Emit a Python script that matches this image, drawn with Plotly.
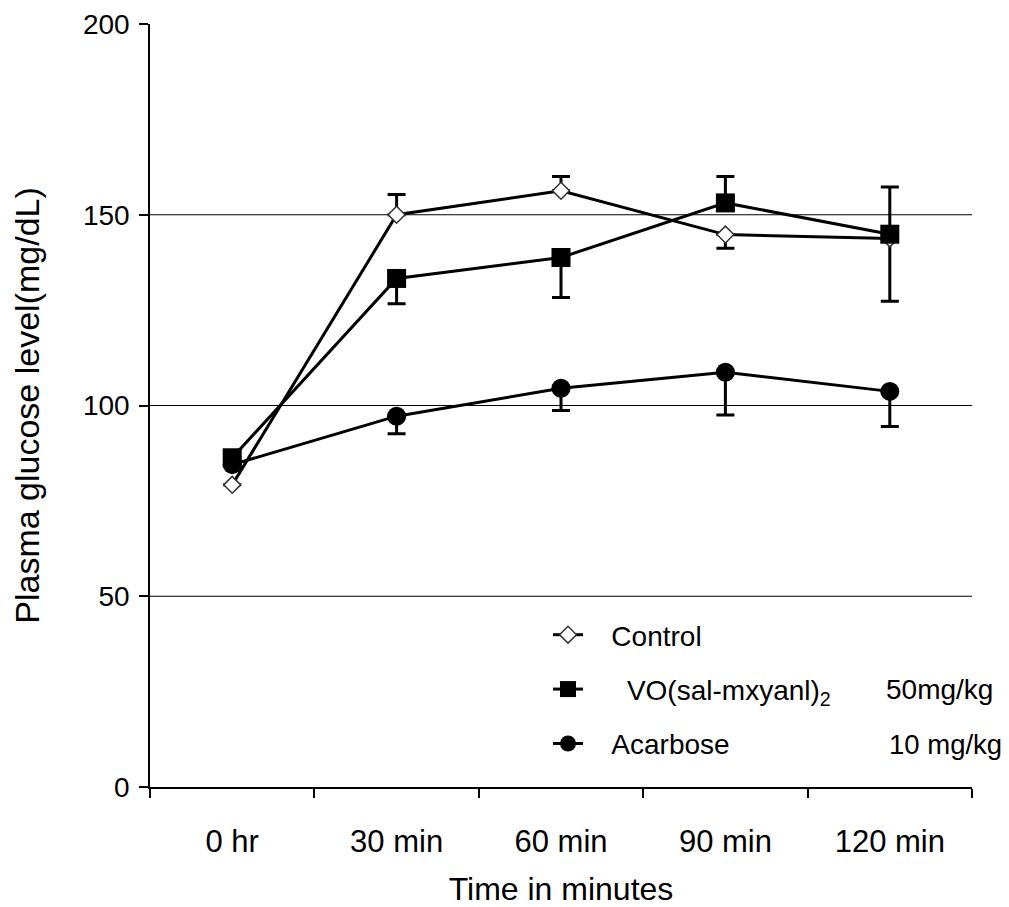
import plotly.graph_objects as go

categories = ["0 hr", "30 min", "60 min", "90 min", "120 min"]

control = [79.2, 150.0, 156.3, 144.8, 143.8]
control_err_plus = [0, 5.3, 3.7, 0, 0]
control_err_minus = [0, 0, 0, 3.6, 16.5]

vo = [86.3, 133.3, 138.8, 153.1, 144.9]
vo_err_plus = [0, 0, 0, 6.9, 12.4]
vo_err_minus = [0, 6.6, 10.5, 0, 0]

acarbose = [84.5, 97.2, 104.5, 108.7, 103.7]
acarbose_err_plus = [0, 0, 0, 0, 0]
acarbose_err_minus = [0, 4.6, 5.8, 11.2, 9.2]

y_ticks = [0, 50, 100, 150, 200]
grid_values = [50, 100, 150]

FONT = "Liberation Sans, Arial, sans-serif"
BLACK = "#000000"
PAD = "&nbsp;&nbsp;&nbsp;"

fig = go.Figure()

def err(plus, minus):
    return dict(type="data", symmetric=False, array=plus, arrayminus=minus,
                color=BLACK, thickness=3, width=9)

fig.add_trace(go.Scatter(
    x=categories, y=control, name=PAD + "Control", mode="lines+markers",
    line=dict(color=BLACK, width=3),
    marker=dict(symbol="diamond", size=13, color="white",
                line=dict(color="#333333", width=1.5)),
    error_y=err(control_err_plus, control_err_minus),
    legendrank=1, legendgroup="a",
))
fig.add_trace(go.Scatter(
    x=categories, y=acarbose, name=PAD + "Acarbose", mode="lines+markers",
    line=dict(color=BLACK, width=3),
    marker=dict(symbol="circle", size=19, color=BLACK),
    error_y=err(acarbose_err_plus, acarbose_err_minus),
    legendrank=3, legendgroup="c",
))
fig.add_trace(go.Scatter(
    x=categories, y=vo, name=PAD + "&nbsp;&nbsp;VO(sal-mxyanl)<sub>2</sub>", mode="lines+markers",
    line=dict(color=BLACK, width=3),
    marker=dict(symbol="square", size=19, color=BLACK),
    error_y=err(vo_err_plus, vo_err_minus),
    legendrank=2, legendgroup="b",
))

shapes = [dict(type="line", xref="paper", x0=0, x1=1, yref="y", y0=v, y1=v,
               line=dict(color=BLACK, width=1.2), layer="below")
          for v in grid_values]

fig.update_layout(
    width=1001, height=899,
    margin=dict(l=142, r=37, t=16, b=120, autoexpand=False),
    paper_bgcolor="white", plot_bgcolor="white",
    font=dict(family=FONT, size=28, color=BLACK),
    shapes=shapes,
    showlegend=True,
    legend=dict(x=0.4842, y=0.232, xanchor="left", yanchor="top",
                bgcolor="rgba(0,0,0,0)", font=dict(size=28),
                traceorder="grouped", tracegroupgap=15, itemwidth=30),
    annotations=[
        dict(text="50mg/kg", x=0.893, y=0.128, xref="paper", yref="paper",
             xanchor="left", yanchor="middle", showarrow=False, font=dict(size=28)),
        dict(text="10 mg/kg", x=0.897, y=0.056, xref="paper", yref="paper",
             xanchor="left", yanchor="middle", showarrow=False, font=dict(size=27.5)),
    ],
)

fig.update_xaxes(
    type="category", categoryorder="array", categoryarray=categories,
    range=[-0.5, 4.5], showgrid=False, zeroline=False,
    showline=True, linecolor=BLACK, linewidth=1.5,
    ticks="outside", tickson="boundaries", ticklen=9, tickwidth=1.5, tickcolor=BLACK,
    tickfont=dict(size=31), ticklabelstandoff=26,
    title=dict(text="Time in minutes", font=dict(size=32), standoff=40),
    automargin=False,
)
fig.update_yaxes(
    range=[0, 200], tickvals=y_ticks, showgrid=False, zeroline=False,
    showline=True, linecolor=BLACK, linewidth=1.5,
    ticks="outside", ticklen=9, tickwidth=1.5, tickcolor=BLACK,
    tickfont=dict(size=28), ticklabelstandoff=4,
    title=dict(text="Plasma glucose level(mg/dL)", font=dict(size=34), standoff=33),
    automargin=False,
)

fig.write_html("out.html")
